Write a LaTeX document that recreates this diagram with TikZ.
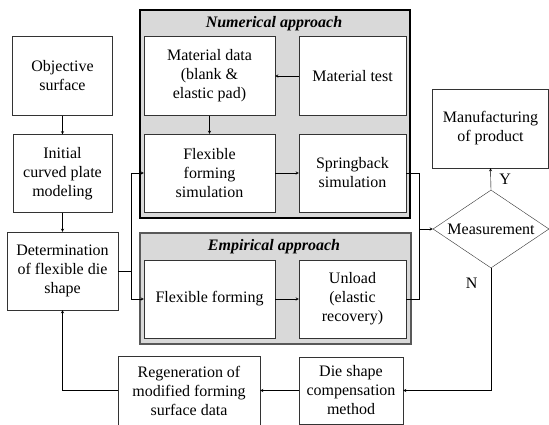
\documentclass[tikz,border=0pt]{standalone}
\usepackage{fontspec}
\setmainfont{Liberation Serif}
\usepackage{tikz}
\usetikzlibrary{positioning, arrows, shapes.geometric}
\tikzset{
->, % every connector is directed
>=stealth, % small filled arrow heads
line width=0.8pt,
block/.style={draw=black!80, fill=white, align=center, inner sep=2pt,
  font=\fontsize{16}{19}\selectfont}, % plain process box
decision/.style={diamond, aspect=1.5, draw=black!80, fill=white, inner sep=0pt,
  minimum width=116pt, minimum height=78pt, font=\fontsize{16}{19}\selectfont},
numbox/.style={-, draw=black, line width=1.6pt, fill=gray!30}, % numerical group
empbox/.style={-, draw=black!65, line width=1.2pt, fill=gray!30}, % empirical group
grouptitle/.style={font=\fontsize{16}{19}\selectfont\bfseries\itshape},
label/.style={font=\fontsize{16}{19}\selectfont},
}

\begin{document}
\begin{tikzpicture}[x=1pt, y=-1pt]
        \useasboundingbox (0,0) rectangle (549,425);

        % approach groups
        \draw[numbox] (140,10) rectangle (410,218);
        \draw[empbox] (140,233) rectangle (411,344);
        \node[grouptitle] (numtitle) at (274,24) {Numerical approach};
        \node[grouptitle] (emptitle) at (274,247) {Empirical approach};

        % left column
        \node[block, minimum width=100pt, minimum height=79pt] (obj) at (62.5,76) {Objective\\surface};
        \node[block, minimum width=99pt, minimum height=78pt, below of=obj, node distance=97.5pt] (init) {Initial\\curved plate\\modeling};
        \node[block, minimum width=111pt, minimum height=78pt, below of=init, node distance=97.5pt] (det) {Determination\\of flexible die\\shape};

        % numerical approach
        \node[block, minimum width=131pt, minimum height=79pt, right of=obj, node distance=147pt] (matdata) {Material data\\(blank \&\\elastic pad)};
        \node[block, minimum width=107pt, minimum height=79pt, right of=matdata, node distance=143pt] (mattest) {Material test};
        \node[block, minimum width=131pt, minimum height=78pt, below of=matdata, node distance=97pt] (flexsim) {Flexible\\forming\\simulation};
        \node[block, minimum width=107pt, minimum height=78pt, right of=flexsim, node distance=143pt] (spring) {Springback\\simulation};

        % empirical approach
        \node[block, minimum width=131pt, minimum height=78pt, below of=flexsim, node distance=126pt] (flexform) {Flexible forming};
        \node[block, minimum width=107pt, minimum height=78pt, right of=flexform, node distance=143pt] (unload) {Unload\\(elastic\\recovery)};

        % right side and bottom row
        \node[decision] (measure) at (491,229) {Measurement};
        \node[block, minimum width=116pt, minimum height=79pt] (manuf) at (490.5,128.5) {Manufacturing\\of product};
        \node[block, minimum width=104pt, minimum height=67pt] (die) at (351,390.5) {Die shape\\compensation\\method};
        \node[block, minimum width=142pt, minimum height=69pt] (regen) at (189,390.5) {Regeneration of\\modified forming\\surface data};

        \draw (obj) -- (init);
        \draw (init) -- (det);
        \draw (mattest) -- (matdata);
        \draw (matdata) -- (flexsim);
        \draw (flexsim) -- (spring);
        \draw (flexform) -- (unload);

        \coordinate (split) at ([xshift=13pt]det.east);
        \draw[-] (det.east) -- (split);
        \draw (split) |- (flexsim.west);
        \draw (split) |- (flexform.west);

        \coordinate (merge) at ([xshift=13pt]spring.east |- measure.west);
        \draw[-] (spring.east) -| (merge);
        \draw[-] (unload.east) -| (merge);
        \draw (merge) -- (measure.west);

        \draw (measure.north) -- node[label, right=5pt]{Y} (manuf.south);
        \draw (measure.south) |- node[label, pos=0.06, left=10pt]{N} (die.east);
        \draw (die.west) -- (regen.east);
        \draw (regen.west) -| (det.south);
    \end{tikzpicture}
\end{document}
